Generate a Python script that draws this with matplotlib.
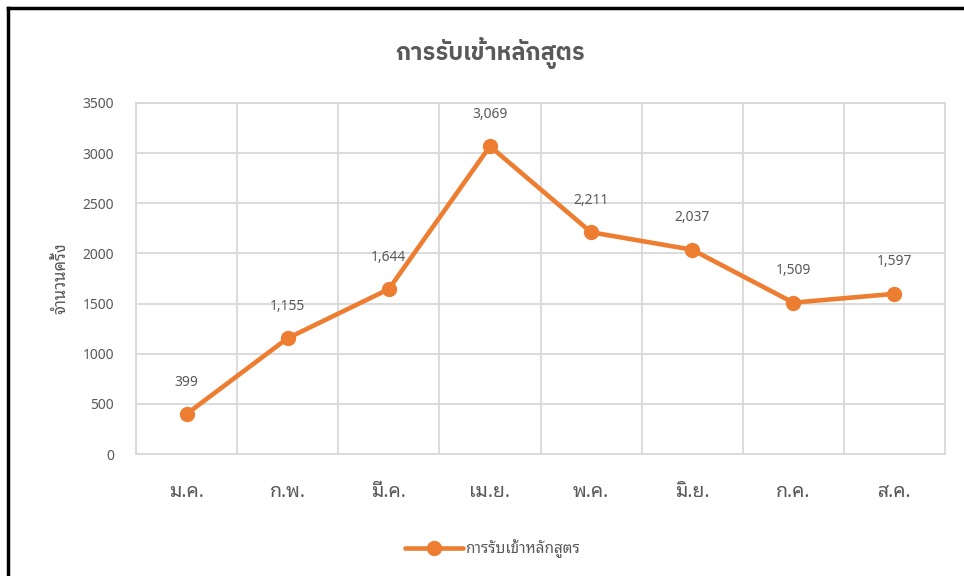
import matplotlib
matplotlib.use('Agg')
import matplotlib.pyplot as plt
from matplotlib.lines import Line2D

months = ['ม.ค.', 'ก.พ.', 'มี.ค.', 'เม.ย.', 'พ.ค.', 'มิ.ย.', 'ก.ค.', 'ส.ค.']
enrolments = [399, 1155, 1644, 3069, 2211, 2037, 1509, 1597]
y_ticks = [0, 500, 1000, 1500, 2000, 2500, 3000, 3500]
title = 'การรับเข้าหลักสูตร'
y_label = 'จำนวนครั้ง'

ORANGE = '#ED7D31'
GREY = '#595959'
GRID = '#D9D9D9'

plt.rcParams['font.family'] = ['Noto Sans', 'Noto Sans Thai Looped', 'DejaVu Sans']
thai_body = ['Noto Sans Thai Looped', 'Noto Sans']
thai_title = ['IBM Plex Sans Thai', 'Noto Sans']

fig = plt.figure(figsize=(9.64, 5.76), dpi=100)
ax = fig.add_axes([0.1411, 0.2118, 0.8392, 0.6094])

x = list(range(len(months)))
ax.plot(x, enrolments, color=ORANGE, linewidth=3.3, marker='o', markersize=10,
        solid_capstyle='round', label=title, zorder=3)

# ป้ายค่าเหนือจุด
for xi, v in zip(x, enrolments):
    ax.annotate(f'{v:,}', (xi, v), xytext=(0, 23), textcoords='offset points',
                ha='center', va='center', fontsize=10, color=GREY)

ax.set_xlim(-0.5, len(months) - 0.5)
ax.set_ylim(y_ticks[0], y_ticks[-1])
ax.set_yticks(y_ticks)
ax.set_xticks(x)
ax.set_xticklabels(months, fontsize=14, color=GREY, family=thai_body)
ax.set_xticks([i - 0.5 for i in range(len(months) + 1)], minor=True)
ax.tick_params(axis='y', labelsize=10, labelcolor=GREY, length=0, pad=16)
ax.tick_params(axis='x', which='major', length=0, pad=20)
ax.tick_params(axis='x', which='minor', length=0)

ax.grid(True, axis='y', color=GRID, linewidth=1.3)
ax.grid(True, axis='x', which='minor', color=GRID, linewidth=1.3)
for s in ax.spines.values():
    s.set_color(GRID)
    s.set_linewidth(1.3)

ax.set_ylabel(y_label, fontsize=12, color=GREY, labelpad=9, family=thai_body)
fig.text(0.508, 0.908, title, ha='center', va='center', fontsize=17,
         fontweight='bold', color=GREY, family=thai_title)

fig.legend(loc='center', bbox_to_anchor=(0.511, 0.048), frameon=False,
           prop={'family': thai_body, 'size': 11}, labelcolor=GREY,
           handlelength=3.8, handletextpad=0.1)

# กรอบดำด้านบนและด้านซ้าย
fig.add_artist(Line2D([0.0085, 1.0], [0.986, 0.986], color='black', linewidth=2.5,
                      transform=fig.transFigure))
fig.add_artist(Line2D([0.0085, 0.0085], [0.0, 0.986], color='black', linewidth=2.5,
                      transform=fig.transFigure))

fig.savefig('out.png', dpi=100)
